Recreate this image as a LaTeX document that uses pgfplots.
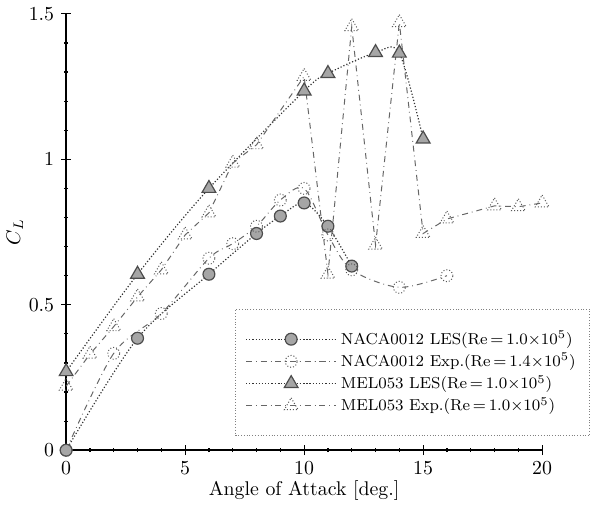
\documentclass[border=0pt]{standalone}
\usepackage{pgfplots}
\pgfplotsset{compat=1.18}

\begin{document}
\begin{tikzpicture}
\begin{axis}[
  scale only axis,
  width=240pt, height=220pt,
  xmin=0, xmax=20, ymin=0, ymax=1.5,
  axis x line=bottom, axis y line=left,
  axis line style={-, line width=0.8pt},
  xtick={0,5,10,15,20}, ytick={0,0.5,1,1.5},
  minor tick num=4,
  tick style={black, line width=0.6pt},
  major tick length=5pt, minor tick length=2pt,
  xlabel={Angle of Attack [deg.]},
  xlabel style={yshift=4pt},
  ylabel={$C_L$},
  ylabel style={yshift=-4pt},
  clip=false,
  legend cell align=left,
  legend style={at={(axis cs:7.1,0.486)}, anchor=north west,
    draw=gray, densely dotted, inner xsep=5pt, inner ysep=9pt,
    row sep=-1pt, font=\footnotesize},
  legend image code/.code={
    \draw[#1, mark repeat=2, mark phase=2]
      plot coordinates {(0cm,0cm) (0.8cm,0cm) (1.6cm,0cm)};},
]

% NACA0012 LES
\addplot[black!80, densely dotted, line width=0.6pt, smooth,
  mark=*, mark size=3pt, mark options={solid, fill=gray!70, draw=gray!60!black}]
  coordinates {
  (0,0) (3,0.385) (6,0.605) (8,0.745) (9,0.805) (10,0.85) (11,0.77) (12,0.633)
};

% NACA0012 Exp
\addplot[black!60, dash dot, line width=0.5pt, smooth,
  mark=o, mark size=3pt, mark options={solid, densely dotted, draw=gray!70!black}]
  coordinates {
  (0,0) (2,0.333) (4,0.47) (6,0.66) (7,0.71) (8,0.77) (9,0.86) (10,0.90)
  (11,0.74) (12,0.62) (14,0.56) (16,0.60)
};

% MEL053 LES
\addplot[black!80, densely dotted, line width=0.6pt, smooth,
  mark=triangle*, mark size=4pt, mark options={solid, fill=gray!70, draw=gray!60!black}]
  coordinates {
  (0,0.27) (3,0.605) (6,0.90) (10,1.235) (11,1.295) (13,1.367) (14,1.365) (15,1.07)
};

% MEL053 Exp
\addplot[black!60, dash dot, line width=0.5pt,
  mark=triangle, mark size=4pt, mark options={solid, densely dotted, draw=gray!70!black}]
  coordinates {
  (0,0.22) (1,0.33) (2,0.425) (3,0.527) (4,0.62) (5,0.74) (6,0.816) (7,0.987)
  (8,1.05) (10,1.285) (11,0.605) (12,1.456) (13,0.705) (14,1.47) (15,0.745)
  (16,0.795) (18,0.84) (19,0.837) (20,0.85)
};

\legend{NACA0012 LES(Re$\,{=}\,1.0{\times}10^5$),
        NACA0012 Exp.(Re$\,{=}\,1.4{\times}10^5$),
        MEL053 LES(Re$\,{=}\,1.0{\times}10^5$),
        MEL053 Exp.(Re$\,{=}\,1.0{\times}10^5$)}
\end{axis}
\path (current axis.south west) ++(-30pt,-26pt);
\path (current axis.north east) ++(20pt,7pt);
\end{tikzpicture}
\end{document}
